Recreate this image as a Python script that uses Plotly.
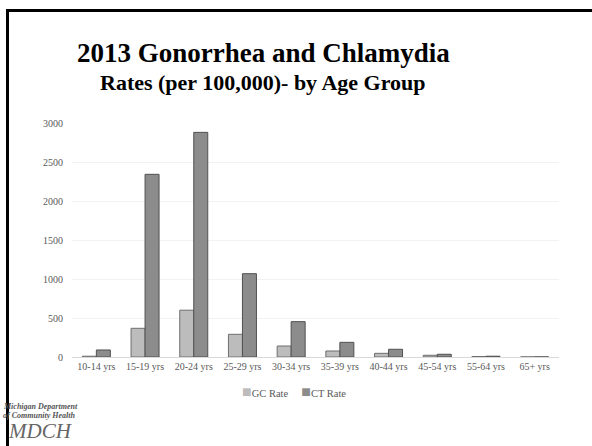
import plotly.graph_objects as go

age_groups = ["10-14 yrs", "15-19 yrs", "20-24 yrs", "25-29 yrs", "30-34 yrs",
              "35-39 yrs", "40-44 yrs", "45-54 yrs", "55-64 yrs", "65+ yrs"]
gc_rate = [10, 368, 600, 291, 141, 77, 47, 22, 6, 1]
ct_rate = [90, 2342, 2880, 1068, 453, 188, 99, 35, 10, 1]
y_ticks = [0, 500, 1000, 1500, 2000, 2500, 3000]

FONT = "Liberation Serif"
GC_COLOR = "#bcbcbc"
CT_COLOR = "#8c8c8c"

# plot area in pixels: x 72..559, y 123..357
L, R, T, B = 72, 33, 123, 89
W, H = 592, 446
pw, ph = W - L - R, H - T - B


def px_x(x):
    return (x - L) / pw


def px_y(y):
    return (H - B - y) / ph


fig = go.Figure()
fig.add_trace(go.Bar(x=age_groups, y=gc_rate, name="GC Rate",
                     marker=dict(color=GC_COLOR, line=dict(color="#6e6e6e", width=1))))
fig.add_trace(go.Bar(x=age_groups, y=ct_rate, name="CT Rate",
                     marker=dict(color=CT_COLOR, line=dict(color="#505050", width=1))))

fig.update_layout(
    width=W, height=H,
    margin=dict(l=L, r=R, t=T, b=B, pad=0),
    plot_bgcolor="white", paper_bgcolor="white",
    barmode="group", bargap=0.425, bargroupgap=0,
    font=dict(family=FONT, color="#595959", size=10),
    showlegend=False,
    xaxis=dict(showgrid=False, showline=True, linecolor="#d9d9d9", linewidth=1,
               ticks="", tickfont=dict(size=10, color="#595959")),
    yaxis=dict(range=[0, 3000], tickvals=y_ticks, showgrid=True, gridcolor="#f2f2f2",
               zeroline=False, showline=False, ticks="", ticklabelstandoff=8,
               tickfont=dict(size=10, color="#595959")),
)

# legend drawn as text, compact like the original
legend_text = (f"<span style='color:{GC_COLOR};font-size:16px'>■</span>GC Rate"
               f"&nbsp;&nbsp;&nbsp;&nbsp;&nbsp;"
               f"<span style='color:{CT_COLOR};font-size:16px'>■</span>CT Rate")
fig.add_annotation(text=legend_text, xref="paper", yref="paper",
                   x=px_x(294), y=px_y(391), xanchor="center", yanchor="middle",
                   showarrow=False, font=dict(family=FONT, size=10.5, color="#595959"))

# titles
fig.add_annotation(text="<b>2013 Gonorrhea and Chlamydia</b>", xref="paper", yref="paper",
                   x=px_x(263), y=px_y(53), xanchor="center", yanchor="middle",
                   showarrow=False, font=dict(family=FONT, size=27, color="black"))
fig.add_annotation(text="<b>Rates (per 100,000)- by Age Group</b>", xref="paper", yref="paper",
                   x=px_x(263), y=px_y(83), xanchor="center", yanchor="middle",
                   showarrow=False, font=dict(family=FONT, size=22, color="black"))

# slide border
fig.add_shape(type="line", xref="paper", yref="paper", x0=px_x(6), x1=px_x(W), y0=px_y(10.5), y1=px_y(10.5),
              line=dict(color="black", width=3))
fig.add_shape(type="line", xref="paper", yref="paper", x0=px_x(7.5), x1=px_x(7.5), y0=px_y(9), y1=px_y(H),
              line=dict(color="black", width=3))

# logo text
fig.add_annotation(text="<i><b>Michigan Department</b></i>", xref="paper", yref="paper",
                   x=px_x(1), y=px_y(406), xanchor="left", yanchor="middle", showarrow=False,
                   font=dict(family=FONT, size=8, color="#555555"))
fig.add_annotation(text="<i><b>of Community Health</b></i>", xref="paper", yref="paper",
                   x=px_x(1), y=px_y(415), xanchor="left", yanchor="middle", showarrow=False,
                   font=dict(family=FONT, size=8, color="#555555"))
fig.add_annotation(text="<i>MDCH</i>", xref="paper", yref="paper",
                   x=px_x(6), y=px_y(431), xanchor="left", yanchor="middle", showarrow=False,
                   font=dict(family=FONT, size=21, color="#666666"))

fig.write_html("out.html", config={"displayModeBar": False},
               post_script="document.body.style.margin='0';")
